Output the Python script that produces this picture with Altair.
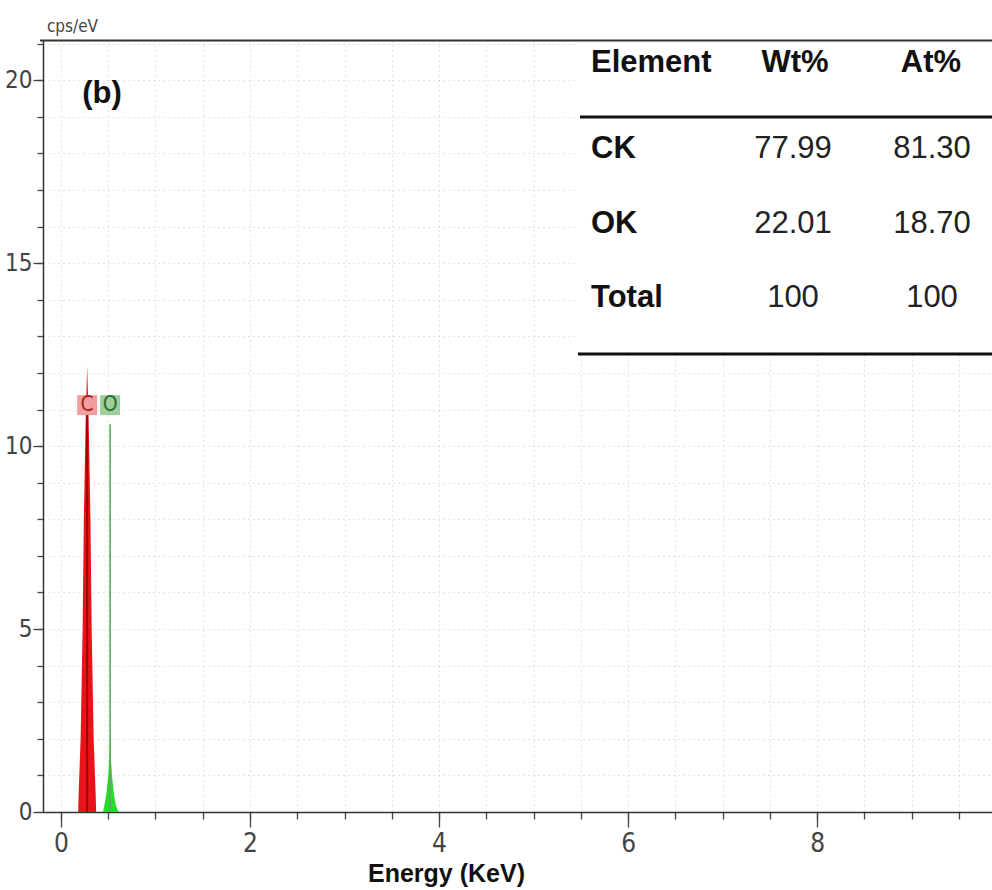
import altair as alt
import pandas as pd

# ---------------- data ----------------
c_energy = [0.182, 0.187, 0.208, 0.229, 0.242, 0.256, 0.264, 0.277, 0.290, 0.298, 0.312, 0.325, 0.346, 0.367, 0.372]
c_counts = [0.0, 0.5, 2.0, 5.0, 8.0, 10.0, 11.0, 12.2, 11.0, 10.0, 8.0, 5.0, 2.0, 0.5, 0.0]
o_energy = [0.444, 0.460, 0.480, 0.500, 0.512, 0.520, 0.528, 0.540, 0.560, 0.580, 0.600, 0.620]
o_counts = [0.0, 0.2, 0.5, 1.0, 1.5, 2.05, 1.5, 1.0, 0.5, 0.2, 0.05, 0.0]

marker_elements = ["C", "O"]
marker_energy = [0.277, 0.52]
marker_height = [11.1, 10.6]
label_level = [11.12, 11.12]

table_header = ["Element", "Wt%", "At%"]
table_elements = ["CK", "OK", "Total"]
table_wt = ["77.99", "22.01", "100"]
table_at = ["81.30", "18.70", "100"]

panel_label = "(b)"
x_major = [0, 2, 4, 6, 8]
x_minor = [i * 0.5 for i in range(20)]
y_major = [0, 5, 10, 15, 20]
y_minor = list(range(22))

# ---------------- layout ----------------
W, H = 949, 772
X_DOM = [-0.19, 9.85]
Y_DOM = [0, 21.1]
NARROW = "DejaVu Sans Condensed, Liberation Sans Narrow, sans-serif"
SANS = "Liberation Sans, Arial, sans-serif"


def xd(px):
    return X_DOM[0] + px / W * (X_DOM[1] - X_DOM[0])


def yd(py):
    return Y_DOM[1] - py / H * (Y_DOM[1] - Y_DOM[0])


spec = pd.DataFrame({
    "energy": c_energy + o_energy,
    "counts": c_counts + o_counts,
    "element": ["C"] * len(c_energy) + ["O"] * len(o_energy),
})
markers = pd.DataFrame({
    "element": marker_elements,
    "energy": marker_energy,
    "height": marker_height,
    "level": label_level,
})

row_py = [22.5, 109, 183.5, 257.5]
tab = pd.DataFrame({
    "first": [table_header[0]] + table_elements,
    "wt": [table_header[1]] + table_wt,
    "at": [table_header[2]] + table_at,
    "row": [0, 1, 2, 3],
})
tab["ty"] = [yd(p) for p in row_py]

ann = pd.DataFrame({"text": [panel_label], "x": [xd(59)], "y": [yd(54)]})

xs = alt.Scale(domain=X_DOM, nice=False, zero=False)
ys = alt.Scale(domain=Y_DOM, nice=False, zero=False)

x_axis_major = alt.Axis(
    orient="bottom", values=x_major, format="d", labelOverlap=False,
    tickSize=15, tickColor="#444", tickWidth=1.3,
    domainColor="#333", domainWidth=1.5, grid=False,
    labelFont=NARROW, labelFontSize=26, labelColor="#444", labelPadding=3,
    labelFlush=False,
    title="Energy (KeV)", titleFont=SANS, titleFontSize=25, titleFontWeight="bold",
    titleColor="#111", titleX=403, titleY=61, titleAlign="center", titleBaseline="middle",
    titleAnchor="start",
)
y_axis_major = alt.Axis(
    orient="left", values=y_major, format="d", labelOverlap=False,
    tickSize=10, tickColor="#444", tickWidth=1.3,
    domainColor="#333", domainWidth=1.5, grid=False,
    labelFont=NARROW, labelFontSize=24, labelColor="#444", labelPadding=1,
    labelFlush=False,
    title="cps/eV", titleFont=NARROW, titleFontSize=17, titleFontWeight="normal",
    titleColor="#444", titleAngle=0, titleX=29, titleY=-14, titleAlign="center",
    titleBaseline="middle", titleAnchor="start",
)
x_axis_minor = alt.Axis(
    orient="bottom", values=x_minor, labels=False, domain=False, title=None,
    tickSize=7, tickColor="#444", tickWidth=1.3,
    grid=True, gridColor="#bdbdbd", gridDash=[1, 4], gridWidth=1, gridOpacity=0.8,
)
y_axis_minor = alt.Axis(
    orient="left", values=y_minor, labels=False, domain=False, title=None,
    tickSize=6, tickColor="#444", tickWidth=1.3,
    grid=True, gridColor="#bdbdbd", gridDash=[1, 4], gridWidth=1, gridOpacity=0.8,
)

is_c = "datum.element == 'C'"

# invisible carrier layer for the minor ticks and grid
minor = alt.Chart(markers).mark_point(opacity=0).encode(
    x=alt.X("energy:Q", scale=xs, axis=x_axis_minor),
    y=alt.Y("height:Q", scale=ys, axis=y_axis_minor),
)

area = alt.Chart(spec).mark_area(interpolate="linear", opacity=1).encode(
    x=alt.X("energy:Q", scale=xs, axis=x_axis_major),
    y=alt.Y("counts:Q", scale=ys, axis=y_axis_major),
    color=alt.condition(is_c, alt.value("#e8141a"), alt.value("#27dc27")),
    detail="element:N",
)

rules = alt.Chart(markers).mark_rule().encode(
    x=alt.X("energy:Q", axis=None),
    y=alt.Y("height:Q", axis=None),
    y2=alt.datum(0),
    color=alt.condition(is_c, alt.value("#a40000"), alt.value("#5fa85f")),
    strokeWidth=alt.condition(is_c, alt.value(2.0), alt.value(1.6)),
)

boxes = alt.Chart(markers).mark_square(size=400, opacity=1).encode(
    x=alt.X("energy:Q", axis=None),
    y=alt.Y("level:Q", axis=None),
    color=alt.condition(is_c, alt.value("#f29e9e"), alt.value("#9fcc9c")),
)
box_text = alt.Chart(markers).mark_text(font=NARROW, fontSize=21, baseline="middle", align="center").encode(
    x=alt.X("energy:Q", axis=None),
    y=alt.Y("level:Q", axis=None),
    text="element:N",
    color=alt.condition(is_c, alt.value("#a82020"), alt.value("#2a6e2a")),
)

panel = alt.Chart(ann).mark_text(font=SANS, fontSize=31, fontWeight="bold", color="#111",
                                 align="center", baseline="middle").encode(
    x=alt.X("x:Q", axis=None), y=alt.Y("y:Q", axis=None), text="text:N")

one = pd.DataFrame({"k": [0]})
table_bg = alt.Chart(one).mark_rect(color="white").encode(
    x=alt.value(535), x2=alt.value(W), y=alt.value(0), y2=alt.value(314))
top_line = alt.Chart(one).mark_rule(color="#333", strokeWidth=2).encode(
    x=alt.value(-3), x2=alt.value(W), y=alt.value(0.5))
tab_line1 = alt.Chart(one).mark_rule(color="#111", strokeWidth=3).encode(
    x=alt.value(537), x2=alt.value(W), y=alt.value(77))
tab_line2 = alt.Chart(one).mark_rule(color="#111", strokeWidth=3).encode(
    x=alt.value(535), x2=alt.value(W), y=alt.value(314))

col_first = alt.Chart(tab).mark_text(font=SANS, fontSize=31, fontWeight="bold", color="#111",
                                     align="left", baseline="middle").encode(
    x=alt.value(548), y=alt.Y("ty:Q", axis=None), text="first:N")
hdr = tab[tab["row"] == 0]
vals = tab[tab["row"] > 0]
hdr_wt = alt.Chart(hdr).mark_text(font=SANS, fontSize=31, fontWeight="bold", color="#111",
                                  align="center", baseline="middle").encode(
    x=alt.value(752), y=alt.Y("ty:Q", axis=None), text="wt:N")
hdr_at = alt.Chart(hdr).mark_text(font=SANS, fontSize=31, fontWeight="bold", color="#111",
                                  align="center", baseline="middle").encode(
    x=alt.value(888), y=alt.Y("ty:Q", axis=None), text="at:N")
val_wt = alt.Chart(vals).mark_text(font=SANS, fontSize=31, color="#222",
                                   align="center", baseline="middle").encode(
    x=alt.value(750), y=alt.Y("ty:Q", axis=None), text="wt:N")
val_at = alt.Chart(vals).mark_text(font=SANS, fontSize=31, color="#222",
                                   align="center", baseline="middle").encode(
    x=alt.value(889), y=alt.Y("ty:Q", axis=None), text="at:N")

chart = alt.layer(
    minor, area, rules, boxes, box_text, panel, table_bg, top_line, tab_line1, tab_line2,
    col_first, hdr_wt, hdr_at, val_wt, val_at,
).resolve_axis(
    x="independent", y="independent"
).properties(
    width=W, height=H,
    padding={"left": 43, "top": 40, "right": 0, "bottom": 78},
    autosize=alt.AutoSizeParams(type="none"),
    background="white",
).configure_view(stroke=None).configure_scale(continuousPadding=0)

chart.save("out.html", embed_options={"renderer": "svg", "actions": False})
